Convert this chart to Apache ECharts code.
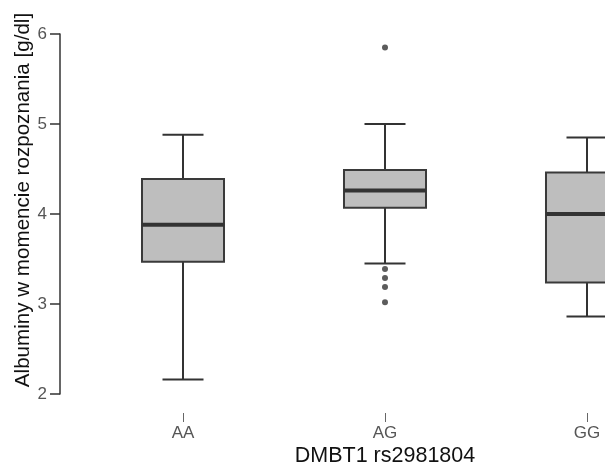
<!DOCTYPE html>
<html>
<head>
<meta charset="utf-8">
<script src="https://cdn.jsdelivr.net/npm/echarts@6/dist/echarts.min.js"></script>
<style>
  html, body { margin: 0; padding: 0; background: #fff; }
  #chart { width: 605px; height: 468px; }
</style>
</head>
<body>
<div id="chart"></div>
<script>
// Genotype groups and their five-number summaries (g/dl)
const categories = ['AA', 'AG', 'GG'];
const whiskerLow = [2.16, 3.45, 2.86];
const q1 = [3.47, 4.07, 3.24];
const median = [3.88, 4.26, 4.00];
const q3 = [4.39, 4.49, 4.46];
const whiskerHigh = [4.88, 5.00, 4.85];
// Outlying observations per group
const outliers = [[], [5.85, 3.39, 3.29, 3.19, 3.02], []];
const yTicks = [2, 3, 4, 5, 6];

const FONT = 'Liberation Sans, Arial, Helvetica, sans-serif';
const INK = '#333333';

const boxData = categories.map((c, i) =>
  [i, whiskerLow[i], q1[i], median[i], q3[i], whiskerHigh[i]]);
const outlierData = [];
outliers.forEach((vals, i) => vals.forEach(v => outlierData.push([i, v])));

function renderBox(params, api) {
  const i = api.value(0);
  const pLow = api.coord([i, api.value(1)]);
  const pQ1 = api.coord([i, api.value(2)]);
  const pMed = api.coord([i, api.value(3)]);
  const pQ3 = api.coord([i, api.value(4)]);
  const pHigh = api.coord([i, api.value(5)]);
  const band = api.size([1, 0])[0];
  const boxW = band * 0.406;
  const capW = boxW / 2;
  const x = pMed[0];
  const line = { stroke: INK, lineWidth: 2 };
  return {
    type: 'group',
    children: [
      { type: 'line', shape: { x1: x, y1: pQ3[1], x2: x, y2: pHigh[1] }, style: line },
      { type: 'line', shape: { x1: x, y1: pQ1[1], x2: x, y2: pLow[1] }, style: line },
      { type: 'line', shape: { x1: x - capW / 2, y1: pHigh[1], x2: x + capW / 2, y2: pHigh[1] }, style: line },
      { type: 'line', shape: { x1: x - capW / 2, y1: pLow[1], x2: x + capW / 2, y2: pLow[1] }, style: line },
      { type: 'rect', shape: { x: x - boxW / 2, y: pQ3[1], width: boxW, height: pQ1[1] - pQ3[1] },
        style: { fill: '#bebebe', stroke: '#3a3a3a', lineWidth: 2 } },
      { type: 'line', shape: { x1: x - boxW / 2, y1: pMed[1], x2: x + boxW / 2, y2: pMed[1] },
        style: { stroke: INK, lineWidth: 4 } }
    ]
  };
}

const chart = echarts.init(document.getElementById('chart'), null, { renderer: 'canvas' });
chart.setOption({
  animation: false,
  backgroundColor: '#ffffff',
  grid: { left: 82, top: 34, width: 606, height: 360, containLabel: false, outerBoundsMode: 'none' },
  xAxis: {
    type: 'category',
    data: categories,
    offset: 19,
    name: 'DMBT1 rs2981804',
    nameLocation: 'middle',
    nameGap: 32,
    nameMoveOverlap: false,
    nameTextStyle: { color: '#111', fontSize: 21.5, fontFamily: FONT },
    axisLine: { show: false },
    axisTick: { show: true, alignWithLabel: true, length: 9, lineStyle: { color: '#666', width: 1 } },
    axisLabel: { color: '#555', fontSize: 17, fontFamily: FONT, margin: 12 },
    splitLine: { show: false }
  },
  yAxis: {
    type: 'value',
    min: yTicks[0],
    max: yTicks[yTicks.length - 1],
    interval: 1,
    offset: 22,
    name: 'Albuminy w momencie rozpoznania [g/dl]',
    nameLocation: 'middle',
    nameGap: 26,
    nameMoveOverlap: false,
    nameRotate: 90,
    nameTextStyle: { color: '#111', fontSize: 20.6, fontFamily: FONT, padding: [0, 0, 0, 28] },
    axisLine: { show: true, lineStyle: { color: INK, width: 1.5 } },
    axisTick: { show: true, length: 10, lineStyle: { color: INK, width: 1.5 } },
    axisLabel: { color: '#555', fontSize: 17, fontFamily: FONT, margin: 13 },
    splitLine: { show: false }
  },
  series: [
    {
      type: 'custom',
      renderItem: renderBox,
      data: boxData,
      encode: { x: 0, y: [1, 2, 3, 4, 5] },
      clip: false
    },
    {
      type: 'scatter',
      data: outlierData,
      symbol: 'circle',
      symbolSize: 6,
      itemStyle: { color: INK }
    }
  ]
});
</script>
</body>
</html>
